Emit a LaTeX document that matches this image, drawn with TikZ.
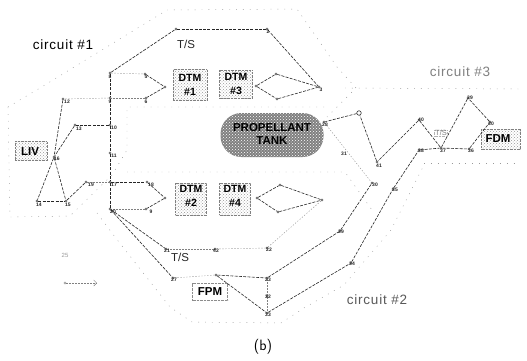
\documentclass[tikz,border=0pt]{standalone}
\usepackage{fontspec}
\setmainfont{Liberation Sans}
\setsansfont{Latin Modern Sans}
\newfontfamily\circfont[LetterSpace=6]{Liberation Sans}
\usetikzlibrary{patterns,arrows.meta}
\tikzset{
  x=1pt,y=-1pt,
  pt/.style={circle,draw=black!80,fill=white,inner sep=0pt,minimum size=2.4pt,line width=.35pt},
  tag/.style={font=\fontsize{5}{5}\selectfont\bfseries,inner sep=0pt,text=black!85},
  wire/.style={line width=.6pt,black!85,dash pattern=on 3pt off 1.3pt},
  faint/.style={line width=.4pt,black!50,dash pattern=on 1.2pt off 1.8pt},
  outline/.style={line width=.45pt,black!40,dash pattern=on .9pt off 6pt},
  unitbox/.style={draw=black!50,densely dotted,line width=.4pt,pattern=crosshatch dots,pattern color=black!40,rectangle,inner sep=0pt},
  unit/.style={font=\fontsize{10.5}{13.5}\selectfont\bfseries,align=center,inner sep=0pt,text=black},
  unitw/.style={font=\fontsize{11.5}{13.5}\selectfont\bfseries,align=center,inner sep=0pt,text=black},
  circ/.style={font=\circfont\fontsize{13.5}{15}\selectfont,inner sep=0pt},
  ts/.style={font=\fontsize{11.5}{13}\selectfont,inner sep=0pt,text=black!85}
}
\begin{document}
\begin{tikzpicture}
\useasboundingbox (0,0) rectangle (527,361);
\fill[white] (0,0) rectangle (527,361);
% circuit outlines
\draw[outline] (8,107) -- (40,88) -- (167,10) -- (297,9) -- (337,67) -- (356,88) -- (327,117);
\draw[outline] (324,107) -- (127,107) -- (127,150) -- (112,175) -- (70,216) -- (10,217) -- (8,107);
\draw[outline] (127,172) -- (345,172) -- (372,210);
\draw[outline] (97,213) -- (115,237) -- (170,307) -- (192,322) -- (281,323) -- (304,308) -- (344,285) -- (391,230) -- (424,165);
\draw[outline] (345,88) -- (522,89);
\draw[outline] (424,163) -- (520,163);
% unit boxes
\node[unitbox,minimum width=34pt,minimum height=31pt] (bd1) at (190,85) {};
\node[unitbox,minimum width=33pt,minimum height=28pt] (bd3) at (236,84) {};
\node[unitbox,minimum width=31pt,minimum height=32pt] (bd2) at (191,199) {};
\node[unitbox,minimum width=31pt,minimum height=32pt] (bd4) at (235,199) {};
\node[unitbox,minimum width=32pt,minimum height=19pt] (bliv) at (31,151) {};
\node[unitbox,minimum width=39pt,minimum height=20pt] (bfdm) at (501,139) {};
\node[draw=black!45,densely dotted,line width=.4pt,minimum width=35pt,minimum height=17pt,inner sep=0pt] (bfpm) at (210,292) {};
\node[rectangle,rounded corners=21pt,minimum width=103pt,minimum height=44pt,fill=black!50,postaction={pattern=crosshatch dots,pattern color=white},inner sep=0pt] (tank) at (272,135) {};
% unit text
\node[unit] (t1) at (190,85) {DTM\\\#1};
\node[unit] (t3) at (236,84) {DTM\\\#3};
\node[unit] (t2) at (191,196) {DTM\\\#2};
\node[unit] (t4) at (235,196) {DTM\\\#4};
\node[unitw] (tl) at (30,152) {LIV};
\node[unitw] (tf) at (498,139) {FDM};
\node[unitw] (tp) at (210,292) {FPM};
\node[unitw] (tt) at (272,134) {PROPELLANT\\TANK};
% points
\node[pt] (n6) at (176,29) {};
\node[pt] (n2) at (267,29) {};
\node[pt] (n3) at (319,87) {};
\node[pt] (n8) at (110,73) {};
\node[pt] (n5) at (145,74) {};
\node[pt] (n7) at (165,87) {};
\node[pt] (n6b) at (146,98) {};
\node[pt] (n9) at (110,98) {};
\node[pt] (n12) at (63,99) {};
\node[pt] (n13) at (75,125) {};
\node[pt] (n10) at (110,125) {};
\node[pt] (n16) at (54,157) {};
\node[pt] (n11) at (110,153) {};
\node[pt] (n14) at (37,201) {};
\node[pt] (n15) at (66,201) {};
\node[pt] (n19) at (86,182) {};
\node[pt] (n17) at (110,182) {};
\node[pt] (n18) at (147,182) {};
\node[pt] (nc) at (165,198) {};
\node[pt] (n9b) at (146,209) {};
\node[pt] (n20) at (110,209) {};
\node[pt] (d3j) at (256,86) {};
\node[pt] (d3u) at (276,74) {};
\node[pt] (d3l) at (277,99) {};
\node[pt] (d4j) at (257,198) {};
\node[pt] (d4u) at (280,185) {};
\node[pt] (d4l) at (278,212) {};
\node[pt] (d4r) at (322,200) {};
\node[pt] (n21) at (166,249) {};
\node[pt] (n27) at (173,278) {};
\node[pt] (n42) at (215,249) {};
\node[pt] (nC) at (216,275) {};
\node[pt] (n22) at (267,248) {};
\node[pt] (n23) at (267,278) {};
\node[pt] (n32) at (267,296) {};
\node[pt] (n33) at (267,313) {};
\node[pt] (n29) at (340,231) {};
\node[pt] (n34) at (351,263) {};
\node[pt] (n30b) at (372,183) {};
\node[pt] (n35) at (393,189) {};
\node[pt] (n38) at (419,150) {};
\node[pt] (n37) at (441,148) {};
\node[pt] (n36) at (469,149) {};
\node[pt] (n39) at (468,98) {};
\node[pt] (n30) at (490,122) {};
\node[pt] (n40) at (419,120) {};
\node[pt] (n41) at (377,162) {};
\node[pt,minimum size=4.5pt,line width=.6pt] (nO) at (359,113) {};
\node[pt] (ntk) at (324,122) {};
% connectors
\draw[wire] (n8) -- (n6);
\draw[wire] (n6) -- (n2);
\draw[wire] (n2) -- (n3);
\draw[faint] (n8) -- (n5);
\draw[wire] (n5) -- (n7);
\draw[wire] (n7) -- (n6b);
\draw[faint] (n6b) -- (n9);
\draw[wire] (n8) -- (n9);
\draw[faint] (n9) -- (n12);
\draw[wire] (n9) -- (n10);
\draw[wire] (n10) -- (n11);
\draw[wire] (n11) -- (n17);
\draw[wire] (n17) -- (n20);
\draw[wire] (n10) -- (n13);
\draw[wire] (n13) -- (n16);
\draw[wire] (n12) -- (n16);
\draw[wire] (n16) -- (n14);
\draw[wire] (n16) -- (n15);
\draw[wire] (n14) -- (n15);
\draw[wire] (n15) -- (n19);
\draw[faint] (n19) -- (n17);
\draw[wire] (n17) -- (n18);
\draw[wire] (n18) -- (nc);
\draw[wire] (nc) -- (n9b);
\draw[faint] (n9b) -- (n20);
\draw[wire] (n20) -- (n21);
\draw[wire] (n20) -- (n27);
\draw[faint] (n21) -- (n42);
\draw[faint] (n42) -- (n22);
\draw[faint] (n27) -- (nC);
\draw[wire] (nC) -- (n23);
\draw[wire] (nC) -- (n33);
\draw[faint] (n23) -- (n32);
\draw[faint] (n32) -- (n33);
\draw[wire] (n33) -- (n34);
\draw[wire] (n34) -- (n35);
\draw[wire] (n35) -- (n38);
\draw[wire] (n38) -- (n37);
\draw[wire] (n37) -- (n36);
\draw[wire] (n36) -- (n30);
\draw[wire] (n30) -- (n39);
\draw[wire] (n39) -- (n37);
\draw[wire] (n37) -- (n40);
\draw[wire] (n40) -- (n41);
\draw[wire] (n41) -- (nO);
\draw[wire] (nO) -- (ntk);
\draw[wire] (n23) -- (n29);
\draw[wire] (n29) -- (n30b);
\draw[faint] (ntk) -- (n30b);
\draw[faint] (n22) -- (d4r);
\draw[wire] (d4j) -- (d4u);
\draw[wire] (d4u) -- (d4r);
\draw[wire] (d4j) -- (d4l);
\draw[wire] (d4l) -- (d4r);
\draw[wire] (d3j) -- (d3u);
\draw[wire] (d3u) -- (n3);
\draw[wire] (d3j) -- (d3l);
\draw[wire] (d3l) -- (n3);
% point labels
\node[tag] (l12) at (67,102) {12};
\node[tag] (l13) at (79,129) {13};
\node[tag] (l10) at (114,128) {10};
\node[tag] (l16) at (57,159) {16};
\node[tag] (l11) at (114,156) {11};
\node[tag] (l14) at (39,205) {14};
\node[tag] (l15) at (68,205) {15};
\node[tag] (l19) at (91,185) {19};
\node[tag] (l17) at (114,185) {17};
\node[tag] (l18) at (151,185) {18};
\node[tag] (l8) at (110,77) {8};
\node[tag] (l9) at (110,102) {9};
\node[tag] (l5) at (146,77) {5};
\node[tag] (l6) at (146,102) {6};
\node[tag] (l20) at (113,212) {20};
\node[tag] (l19b) at (151,212) {9};
\node[tag] (l2) at (268,32) {2};
\node[tag] (l3) at (321,90) {3};
\node[tag] (l21) at (167,251) {21};
\node[tag] (l27) at (174,280) {27};
\node[tag] (l42) at (216,251) {42};
\node[tag] (l22) at (269,250) {22};
\node[tag] (l23) at (268,280) {23};
\node[tag] (l32) at (268,297) {32};
\node[tag] (l33) at (268,315) {33};
\node[tag] (l29) at (341,232) {29};
\node[tag] (l34) at (352,264) {34};
\node[tag] (l30b) at (375,185) {30};
\node[tag] (l35) at (395,190) {35};
\node[tag] (l38) at (421,151) {38};
\node[tag] (l37) at (443,151) {37};
\node[tag] (l36) at (471,151) {36};
\node[tag] (l39) at (470,98) {39};
\node[tag] (l30) at (491,124) {30};
\node[tag] (l40) at (421,120) {40};
\node[tag] (l41) at (379,166) {41};
\node[tag] (l31) at (344,154) {31};
\node[tag] (l28) at (325,125) {28};
% text
\node[circ] (c1) at (63,45) {circuit \#1};
\node[circ,text=black!50] (c3) at (460,72) {circuit \#3};
\node[circ,text=black!65] (c2) at (377,300) {circuit \#2};
\node[ts] (ts1) at (186,44) {T/S};
\node[ts] (ts2) at (180,257) {T/S};
\node[font=\fontsize{7.5}{9}\selectfont,text=black!50,draw=black!30,densely dotted,inner sep=.5pt] (ts3) at (441,133) {T/S};
\node[font=\fontsize{6}{6}\selectfont,text=black!40,inner sep=0pt] (leg) at (65,255) {25};
\node[pt,draw=black!50] (la) at (65,283) {};
\coordinate (lb) at (97,283);
\draw[faint,-{Straight Barb[length=3pt]}] (la) -- (lb);
\node[font=\sffamily\fontsize{15}{17}\selectfont,inner sep=0pt] (cap) at (263,347) {(b)};
\end{tikzpicture}
\end{document}
